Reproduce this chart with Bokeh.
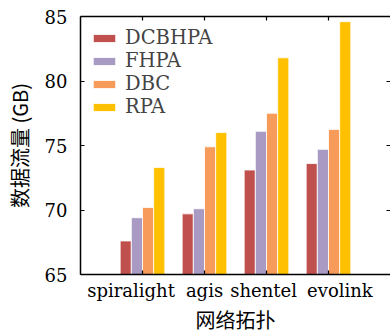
from bokeh.plotting import figure
from bokeh.models import Range1d, FixedTicker, LinearAxis, Legend, LegendItem, ColumnDataSource
from bokeh.embed import file_html
from bokeh.resources import INLINE
import numpy as np

categories = ["spiralight", "agis", "shentel", "evolink"]
series_names = ["DCBHPA", "FHPA", "DBC", "RPA"]
dcbhpa = [67.6, 69.7, 73.1, 73.6]
fhpa = [69.4, 70.1, 76.1, 74.7]
dbc = [70.2, 74.9, 77.5, 76.25]
rpa = [73.3, 76.0, 81.8, 84.6]
colors = ["#c0504d", "#a99ac3", "#f79b5b", "#ffc000"]
y_ticks = [65, 70, 75, 80, 85]

SERIF = "DejaVu Serif"
CJK = "Noto Sans CJK SC"
NB = "\u00a0"

p = figure(width=390, height=336, output_backend="svg", toolbar_location=None,
           x_range=Range1d(0, 5), y_range=Range1d(65, 85),
           min_border_left=80, min_border_right=0, min_border_top=16, min_border_bottom=61)
p.grid.visible = False
p.outline_line_color = None
p.background_fill_color = "white"
p.border_fill_color = "white"

pos = np.arange(1, len(categories) + 1)
bw = 0.18
items = []
for i, (name, vals) in enumerate(zip(series_names, [dcbhpa, fhpa, dbc, rpa])):
    src = ColumnDataSource(dict(x=pos + (i - 1.5) * bw, top=vals))
    r = p.vbar(x="x", top="top", bottom=65, width=bw, source=src,
               fill_color=colors[i], line_color="white", line_width=0.8)
    items.append(LegendItem(label=name, renderers=[r]))

# axes
label_pad = [(0, 4), (0, 0), (0, 1), (4, 0)]  # (leading, trailing) no-break spaces
xa = p.xaxis[0]
xa.ticker = FixedTicker(ticks=list(pos))
xa.major_label_overrides = {int(k): NB * a + c + NB * b
                            for k, c, (a, b) in zip(pos, categories, label_pad)}
xa.axis_label = "网络拓扑"
ya = p.yaxis[0]
ya.ticker = FixedTicker(ticks=y_ticks)
ya.axis_label = "数据流量 (GB)"

for ax in (xa, ya):
    ax.axis_line_color = "black"
    ax.axis_line_width = 1.5
    ax.major_tick_line_color = "black"
    ax.major_tick_line_width = 1.2
    ax.major_tick_in = 4
    ax.major_tick_out = 0
    ax.minor_tick_line_color = None
    ax.major_label_text_font = SERIF
    ax.major_label_text_font_size = "18px"
    ax.major_label_text_color = "black"
    ax.axis_label_text_font = CJK
    ax.axis_label_text_font_size = "20px"
    ax.axis_label_text_font_style = "normal"
    ax.axis_label_text_color = "black"
xa.major_label_standoff = 5
xa.axis_label_standoff = 1
ya.major_label_standoff = 13
ya.axis_label_standoff = 8

top = LinearAxis(ticker=FixedTicker(ticks=list(pos)))
right = LinearAxis(ticker=FixedTicker(ticks=y_ticks))
for ax, lc in ((top, "black"), (right, None)):
    ax.axis_line_color = lc
    ax.axis_line_width = 1.5
    ax.major_tick_line_color = "black"
    ax.major_tick_line_width = 1.2
    ax.major_tick_in = 4
    ax.major_tick_out = 0
    ax.minor_tick_line_color = None
    ax.major_label_text_font_size = "0px"
    ax.major_label_text_color = None
    ax.major_label_standoff = 0
p.add_layout(top, "above")
p.add_layout(right, "right")

legend = Legend(items=items, location="top_left", margin=10, padding=0,
                glyph_width=28, glyph_height=10, label_height=20, spacing=0,
                label_standoff=7, label_text_font=SERIF, label_text_font_size="19.5px",
                background_fill_alpha=0, border_line_color=None)
p.add_layout(legend)

open("out.html", "w").write(file_html(p, INLINE))
